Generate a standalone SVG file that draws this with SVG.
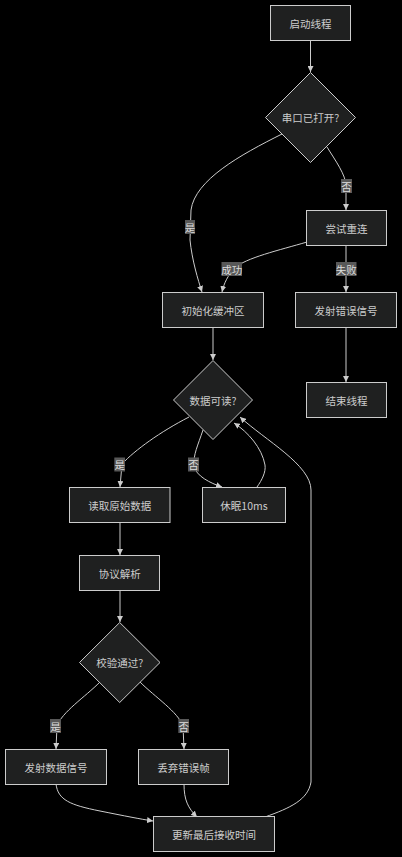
<svg xmlns="http://www.w3.org/2000/svg" width="402" height="857" viewBox="0 0 402 857">
<defs>
<marker id="arr" viewBox="0 0 10 10" refX="10" refY="5" markerWidth="6" markerHeight="6" markerUnits="userSpaceOnUse" orient="auto">
<path d="M0,0 L10,5 L0,10 z" fill="#cccccc"/>
</marker>
<style>
.n rect,.n polygon{fill:#1f2020;stroke:#cccccc;stroke-width:1}
.n text{fill:#cccccc;font-family:"Noto Sans CJK SC","Noto Sans",sans-serif;font-size:10.5px;text-anchor:middle;dominant-baseline:central}
.e path{fill:none;stroke:#cccccc;stroke-width:1;marker-end:url(#arr)}
.l rect{fill:#585858}
.l text{fill:#dddddd;font-family:"Noto Sans CJK SC",sans-serif;font-size:10.5px;text-anchor:middle;dominant-baseline:central}
</style>
</defs>
<rect width="402" height="857" fill="#000000"/>
<g id="edges" class="e">
<path d="M310.5,40 L310.5,72"/>
<path d="M327,147 C335,160 346,175 346,186 L346,210"/>
<path d="M282,134 C240,155 195,180 191,210 L190,240 C192,260 198,280 202,292"/>
<path d="M307,242 C280,250 245,258 235,268 C228,275 224,283 222,292"/>
<path d="M346,245 L346,292"/>
<path d="M346,328 L346,382"/>
<path d="M213,328 L213,360"/>
<path d="M189,417 C160,432 135,450 122,464 L120,487"/>
<path d="M203,430 C198,445 193,455 194,466 C196,476 210,483 222,487"/>
<path d="M257,487 C262,480 266,472 265,465 C262,448 248,432 234,423"/>
<path d="M265,817 C290,808 308,800 311,782 L311,490 C311,465 265,440 240,417"/>
<path d="M120,523 L120,555"/>
<path d="M120,590 L120,622"/>
<path d="M100,682 C85,697 62,712 57,726 L56,749"/>
<path d="M140,682 C155,697 178,712 183,726 L184,749"/>
<path d="M56,784 C58,800 70,805 100,811 C125,816 140,819 153,821"/>
<path d="M184,784 C184,800 188,808 197,817"/>
</g>
<g id="edge-labels" class="l">
<g><rect x="341" y="179" width="11" height="14"/><text x="346.5" y="186">否</text></g>
<g><rect x="185" y="220" width="10" height="14"/><text x="190" y="227">是</text></g>
<g><rect x="221.5" y="262" width="20.5" height="14"/><text x="231.7" y="269">成功</text></g>
<g><rect x="336" y="262" width="20.5" height="14"/><text x="346.2" y="269">失败</text></g>
<g><rect x="114.3" y="457.5" width="10.7" height="14"/><text x="119.7" y="464.5">是</text></g>
<g><rect x="188" y="457.5" width="11" height="14"/><text x="193.5" y="464.5">否</text></g>
<g><rect x="50" y="719" width="11" height="14"/><text x="55.5" y="726">是</text></g>
<g><rect x="178.3" y="719" width="10.7" height="14"/><text x="183.7" y="726">否</text></g>
</g>
<g id="n1" class="n"><rect x="270.5" y="5.5" width="80" height="35"/><text x="310.5" y="23">启动线程</text></g>
<g id="n2" class="n"><polygon points="310.5,72.5 355.5,117.5 310.5,162.5 265.5,117.5"/><text x="310.5" y="117.5">串口已打开?</text></g>
<g id="n3" class="n"><rect x="306.5" y="210.5" width="80" height="35"/><text x="346.5" y="228">尝试重连</text></g>
<g id="n4" class="n"><rect x="162.5" y="292.5" width="101" height="35"/><text x="213" y="310">初始化缓冲区</text></g>
<g id="n5" class="n"><rect x="295.5" y="292.5" width="101" height="35"/><text x="346" y="310">发射错误信号</text></g>
<g id="n6" class="n"><rect x="306.5" y="382.5" width="80" height="35"/><text x="346.5" y="400">结束线程</text></g>
<g id="n7" class="n"><polygon points="213,360.5 252.5,400 213,439.5 173.5,400"/><text x="213" y="400">数据可读?</text></g>
<g id="n8" class="n"><rect x="69.5" y="487.5" width="100.5" height="35"/><text x="119.7" y="505">读取原始数据</text></g>
<g id="n9" class="n"><rect x="202.5" y="487.5" width="83" height="35"/><text x="244" y="505">休眠10ms</text></g>
<g id="n10" class="n"><rect x="79.5" y="555.5" width="80" height="35"/><text x="119.7" y="573">协议解析</text></g>
<g id="n11" class="n"><polygon points="119.7,622.5 160,662.5 119.7,702.5 79.5,662.5"/><text x="119.7" y="662.5">校验通过?</text></g>
<g id="n12" class="n"><rect x="5.5" y="749.5" width="101" height="35"/><text x="56" y="767">发射数据信号</text></g>
<g id="n13" class="n"><rect x="138.5" y="749.5" width="90" height="35"/><text x="183.5" y="767">丢弃错误帧</text></g>
<g id="n14" class="n"><rect x="153.5" y="816.5" width="121" height="35"/><text x="214" y="834">更新最后接收时间</text></g>
</svg>
